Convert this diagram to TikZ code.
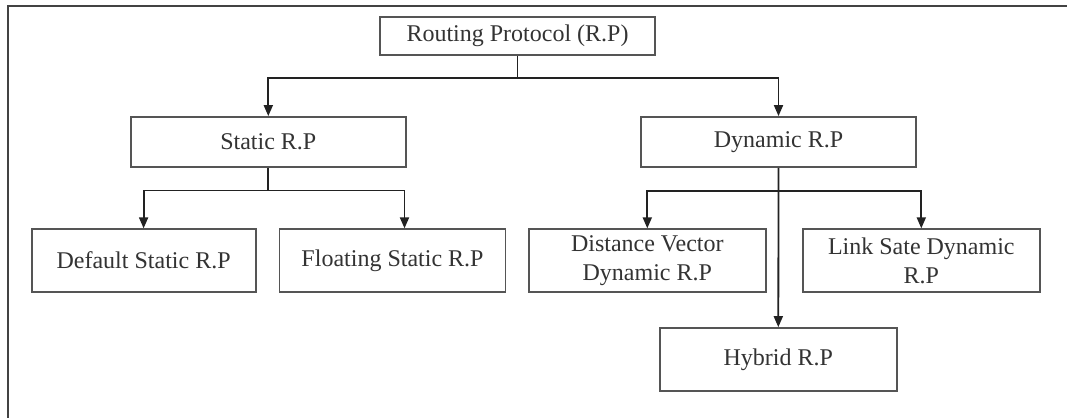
\documentclass[tikz,border=0pt]{standalone}
\usepackage{fontspec}
\setmainfont{Liberation Serif}
\usetikzlibrary{arrows.meta}
\definecolor{boxc}{HTML}{555555}
\definecolor{linec}{HTML}{222222}
\definecolor{txtc}{HTML}{333333}
\begin{document}
\begin{tikzpicture}[x=1pt,y=-1pt,
  box/.style={draw=boxc,line width=1.8pt,inner sep=0pt,align=center,text=txtc,
    font=\fontsize{24}{29}\selectfont},
  conn/.style={draw=linec,line width=1.8pt},
  arr/.style={conn,-{Triangle[length=11pt,width=9pt]}}]
\useasboundingbox (0,0) rectangle (1067,418);
\fill[white] (0,0) rectangle (1067,418);
\draw[line width=2.4pt,color=linec!85] (1067,6) -- (8,6) -- (8,418);
\node[box,minimum width=275pt,minimum height=38pt] (root) at (517.5,36) {Routing Protocol (R.P)};
\node[box,minimum width=275pt,minimum height=50pt] (static) at (268.3,142) {Static R.P};
\node[box,minimum width=275pt,minimum height=50pt] (dynamic) at (778.5,142) {Dynamic R.P};
\node[box,minimum width=224pt,minimum height=62.5pt] (default) at (143.6,260.5) {Default Static R.P};
\node[box,minimum width=226pt,minimum height=62.5pt] (floating) at (392.5,260.5) {Floating Static R.P};
\node[box,minimum width=237pt,minimum height=62.5pt] (dv) at (647.3,260.5) {Distance Vector\\Dynamic R.P};
\node[box,minimum width=237pt,minimum height=62.5pt] (ls) at (921.3,260.5) {Link Sate Dynamic\\R.P};
\node[box,minimum width=237pt,minimum height=62.7pt] (hybrid) at (778.3,359.4) {Hybrid R.P};
\coordinate (rj) at (517.5,78.3);
\coordinate (sj) at (268.3,190.5);
\coordinate (dj) at (778.5,190.7);
\draw[conn] (root.south) -- (rj);
\draw[arr] (rj) -| (static.north);
\draw[arr] (rj) -| (dynamic.north);
\draw[conn] (static.south) -- (sj);
\draw[arr] (sj) -| (default.north);
\draw[arr] (sj) -| ([xshift=12pt]floating.north);
\draw[arr] (dynamic.south) -- (hybrid.north);
\draw[arr] (dj) -| (dv.north);
\draw[arr] (dj) -| (ls.north);
\end{tikzpicture}
\end{document}
